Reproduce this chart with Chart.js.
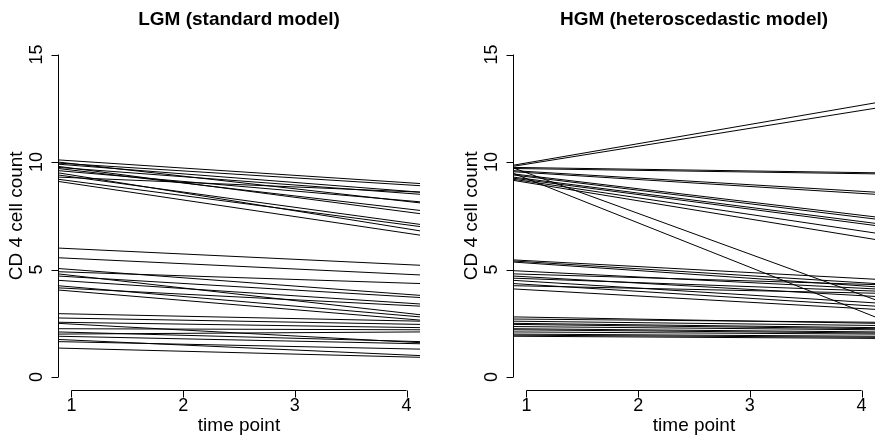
<!DOCTYPE html>
<html>
<head>
<meta charset="utf-8">
<script src="https://cdn.jsdelivr.net/npm/chart.js@4"></script>
<style>
  html, body { margin: 0; padding: 0; background: #fff; }
  #wrap { position: relative; width: 876px; height: 438px; overflow: hidden; }
  canvas { position: absolute; top: 0; }
</style>
</head>
<body>
<div id="wrap">
  <canvas id="lgm" width="438" height="438" style="left:0"></canvas>
  <canvas id="hgm" width="438" height="438" style="left:438px"></canvas>
</div>
<script>
// Line extent (x range of the plot region) and axis ticks
const xRange = [0.88, 4.12];
const yRange = [-0.6, 15.6];
const xTicks = [1, 2, 3, 4];
const yTicks = [0, 5, 10, 15];

// LGM (standard model): value at left edge / right edge of each line
const lgmStart = [10.1, 10.0, 9.95, 9.9, 9.8, 9.75, 9.7, 9.6, 9.5, 9.4, 9.3, 9.2, 9.1,
                  6.0, 5.55, 5.05, 4.9, 4.8, 4.7, 4.5, 4.25, 4.15, 4.05,
                  2.95, 2.75, 2.55, 2.5, 2.25, 2.1, 2.0, 1.9, 1.75, 1.65, 1.35];
const lgmEnd   = [9.0, 8.1, 8.9, 8.6, 7.6, 8.5, 7.75, 8.15, 6.8, 7.1, 8.6, 7.0, 6.6,
                  5.2, 4.75, 3.8, 4.35, 2.9, 3.7, 3.4, 2.8, 3.3, 2.65,
                  2.6, 2.45, 2.3, 1.6, 2.2, 1.65, 2.1, 1.55, 1.0, 1.3, 0.92];

// HGM (heteroscedastic model)
const hgmStart = [9.85, 9.8, 9.75, 9.7, 9.73, 9.6, 9.55, 9.48, 9.45, 9.4, 9.3, 9.25, 9.2, 9.15,
                  5.45, 5.4, 5.35, 4.95, 4.8, 4.7, 4.6, 4.5, 4.35, 4.25, 4.1,
                  2.8, 2.7, 2.6, 2.5, 2.45, 2.35, 2.25, 2.2, 2.1, 2.0, 1.95, 1.9];
const hgmEnd   = [12.75, 12.5, 9.5, 9.45, 3.6, 8.6, 8.5, 2.8, 7.45, 7.35, 7.15, 7.05, 6.7, 6.4,
                  4.55, 4.35, 4.2, 4.1, 4.3, 3.75, 4.0, 3.45, 3.3, 3.9, 3.15,
                  2.5, 2.55, 2.4, 2.3, 2.25, 2.2, 2.1, 2.05, 2.0, 1.9, 1.85, 1.8];

const FONT = '"Liberation Sans", Arial, sans-serif';

// R-style detached axes, tick labels and titles
const rAxes = {
    id: 'rAxes',
    afterDraw(chart, args, opts) {
        const ctx = chart.ctx;
        const xs = chart.scales.x;
        const ys = chart.scales.y;
        const area = chart.chartArea;
        ctx.save();
        ctx.strokeStyle = '#000';
        ctx.fillStyle = '#000';
        ctx.lineWidth = 1;

        // x axis
        const y0 = Math.round(area.bottom) + 0.5;
        ctx.beginPath();
        ctx.moveTo(xs.getPixelForValue(xTicks[0]), y0);
        ctx.lineTo(xs.getPixelForValue(xTicks[xTicks.length - 1]), y0);
        xTicks.forEach(t => {
            const px = Math.round(xs.getPixelForValue(t)) + 0.5;
            ctx.moveTo(px, y0);
            ctx.lineTo(px, y0 + 7);
        });
        ctx.stroke();
        ctx.font = '18px ' + FONT;
        ctx.textAlign = 'center';
        ctx.textBaseline = 'middle';
        xTicks.forEach(t => ctx.fillText(String(t), xs.getPixelForValue(t), y0 + 16));
        ctx.font = '19px ' + FONT;
        ctx.fillText(opts.xTitle, (area.left + area.right) / 2, y0 + 35);

        // y axis
        const x0 = Math.round(area.left) + 0.5;
        ctx.beginPath();
        ctx.moveTo(x0, ys.getPixelForValue(yTicks[0]));
        ctx.lineTo(x0, ys.getPixelForValue(yTicks[yTicks.length - 1]));
        yTicks.forEach(t => {
            const py = Math.round(ys.getPixelForValue(t)) + 0.5;
            ctx.moveTo(x0, py);
            ctx.lineTo(x0 - 7, py);
        });
        ctx.stroke();
        ctx.font = '18px ' + FONT;
        yTicks.forEach(t => {
            ctx.save();
            ctx.translate(x0 - 21, ys.getPixelForValue(t));
            ctx.rotate(-Math.PI / 2);
            ctx.fillText(String(t), 0, 0);
            ctx.restore();
        });
        ctx.font = '19px ' + FONT;
        ctx.save();
        ctx.translate(x0 - 42, (area.top + area.bottom) / 2);
        ctx.rotate(-Math.PI / 2);
        ctx.fillText(opts.yTitle, 0, 0);
        ctx.restore();

        // main title
        ctx.font = 'bold 19px ' + FONT;
        ctx.fillText(opts.title, (area.left + area.right) / 2, 19.5);
        ctx.restore();
    }
};

const makePanel = (canvasId, title, starts, ends, padding) => {
    const datasets = starts.map((s, i) => ({
        data: [{ x: xRange[0], y: s }, { x: xRange[1], y: ends[i] }],
        borderColor: '#000',
        borderWidth: 1,
        pointRadius: 0,
        tension: 0
    }));
    return new Chart(document.getElementById(canvasId), {
        type: 'line',
        data: { datasets },
        options: {
            responsive: false,
            animation: false,
            devicePixelRatio: 1,
            layout: { padding },
            scales: {
                x: { type: 'linear', min: xRange[0], max: xRange[1], display: false },
                y: { type: 'linear', min: yRange[0], max: yRange[1], display: false }
            },
            plugins: {
                legend: { display: false },
                tooltip: { enabled: false },
                rAxes: { title, xTitle: 'time point', yTitle: 'CD 4 cell count' }
            }
        },
        plugins: [rAxes]
    });
};

makePanel('lgm', 'LGM (standard model)', lgmStart, lgmEnd, { left: 58, right: 18, top: 41.6, bottom: 48 });
makePanel('hgm', 'HGM (heteroscedastic model)', hgmStart, hgmEnd, { left: 75, right: 1, top: 41.6, bottom: 48 });
</script>
</body>
</html>
